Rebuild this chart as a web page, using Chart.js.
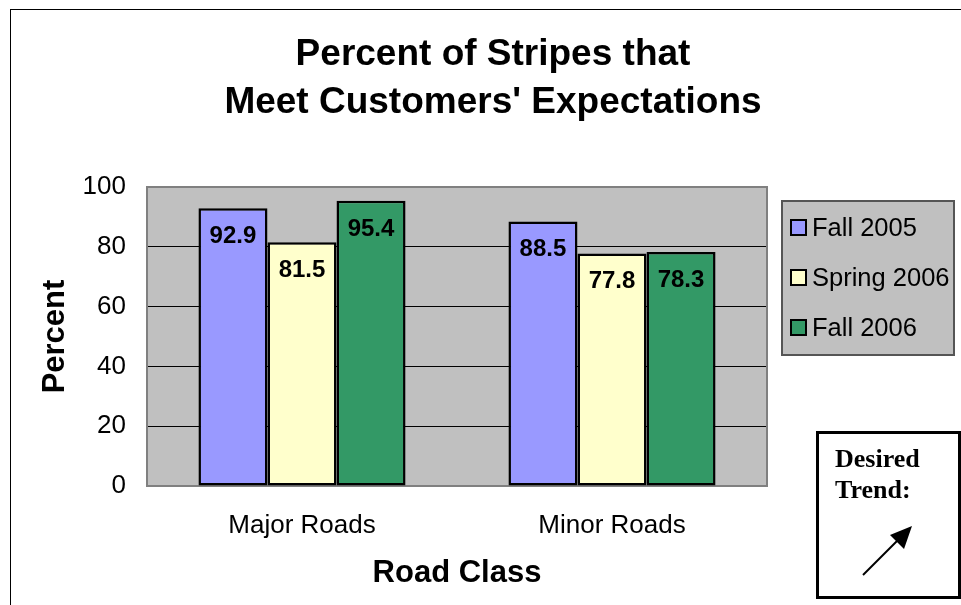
<!DOCTYPE html>
<html>
<head>
<meta charset="utf-8">
<title>Percent of Stripes that Meet Customers' Expectations</title>
<script src="https://cdn.jsdelivr.net/npm/chart.js@4.4.1/dist/chart.umd.min.js"></script>
<style>
  html, body { margin: 0; padding: 0; background: #fff; }
  canvas { display: block; }
</style>
</head>
<body>
<canvas id="stripesChart" width="961" height="605"></canvas>
<script>
// survey results per road class
var roadClasses = ['Major Roads', 'Minor Roads'];
var seasons = ['Fall 2005', 'Spring 2006', 'Fall 2006'];
var fall2005 = [92.9, 88.5];
var spring2006 = [81.5, 77.8];
var fall2006 = [95.4, 78.3];
var seasonColors = ['#9999FF', '#FFFFCC', '#339966'];
var yTicks = [0, 20, 40, 60, 80, 100];
var titleLines = ['Percent of Stripes that', "Meet Customers' Expectations"];
var trendLines = ['Desired', 'Trend:'];

var SANS = "'Liberation Sans', Arial, sans-serif";
var SERIF = "'Liberation Serif', 'Times New Roman', serif";

var seriesValues = [fall2005, spring2006, fall2006];
var datasets = seasons.map(function(name, i){
    return {
        label: name,
        data: seriesValues[i],
        backgroundColor: seasonColors[i],
        borderColor: '#000',
        borderWidth: 2.5,
        borderSkipped: false,
        categoryPercentage: 0.668,
        barPercentage: 1.0
    };
});

// gray plot background and its frame
var plotFrame = {
    id: 'plotFrame',
    beforeDraw: function(chart){
        var ctx = chart.ctx, a = chart.chartArea;
        ctx.save();
        ctx.fillStyle = '#fff';
        ctx.fillRect(0, 0, chart.width, chart.height);
        ctx.fillStyle = '#C0C0C0';
        ctx.fillRect(a.left, a.top, a.right - a.left, a.bottom - a.top);
        ctx.restore();
    },
    beforeDatasetsDraw: function(chart){
        var ctx = chart.ctx, a = chart.chartArea;
        ctx.save();
        ctx.strokeStyle = '#808080';
        ctx.lineWidth = 2;
        ctx.strokeRect(a.left, a.top, a.right - a.left, a.bottom - a.top);
        ctx.restore();
    }
};

// numbers printed inside the top of each bar
var valueLabels = {
    id: 'valueLabels',
    afterDatasetsDraw: function(chart){
        var ctx = chart.ctx;
        ctx.save();
        ctx.font = 'bold 24px ' + SANS;
        ctx.fillStyle = '#000';
        ctx.textAlign = 'center';
        ctx.textBaseline = 'alphabetic';
        chart.data.datasets.forEach(function(ds, i){
            chart.getDatasetMeta(i).data.forEach(function(bar, j){
                ctx.fillText(ds.data[j].toFixed(1), bar.x, bar.y + 35);
            });
        });
        ctx.restore();
    }
};

// outer border, title, legend and the trend box
var decorations = {
    id: 'decorations',
    afterDraw: function(chart){
        var ctx = chart.ctx;
        ctx.save();

        ctx.strokeStyle = '#000';
        ctx.lineWidth = 1;
        ctx.strokeRect(10.5, 9.5, 1000, 1000);

        ctx.fillStyle = '#000';
        ctx.font = 'bold 37px ' + SANS;
        ctx.textAlign = 'center';
        ctx.textBaseline = 'alphabetic';
        titleLines.forEach(function(line, i){
            ctx.fillText(line, 493, 65 + i * 48);
        });

        // legend
        ctx.fillStyle = '#C0C0C0';
        ctx.fillRect(782, 201, 172, 154);
        ctx.strokeStyle = '#555';
        ctx.lineWidth = 2;
        ctx.strokeRect(782, 201, 172, 154);
        ctx.font = '25.5px ' + SANS;
        ctx.textAlign = 'left';
        ctx.textBaseline = 'middle';
        chart.data.datasets.forEach(function(ds, i){
            var y = 228 + i * 50;
            ctx.fillStyle = ds.backgroundColor;
            ctx.fillRect(791, y - 8, 15, 15);
            ctx.strokeStyle = '#000';
            ctx.lineWidth = 2;
            ctx.strokeRect(791, y - 8, 15, 15);
            ctx.fillStyle = '#000';
            ctx.fillText(ds.label, 812, y + 1);
        });

        // desired trend box
        ctx.fillStyle = '#fff';
        ctx.fillRect(817, 432, 142, 166);
        ctx.strokeStyle = '#000';
        ctx.lineWidth = 3;
        ctx.strokeRect(817.5, 432.5, 142, 165);
        ctx.fillStyle = '#000';
        ctx.font = 'bold 26px ' + SERIF;
        ctx.textBaseline = 'alphabetic';
        trendLines.forEach(function(line, i){
            ctx.fillText(line, 835, 467 + i * 31);
        });
        ctx.lineWidth = 2;
        ctx.beginPath();
        ctx.moveTo(863, 575);
        ctx.lineTo(899, 539);
        ctx.stroke();
        ctx.beginPath();
        ctx.moveTo(912, 526);
        ctx.lineTo(890, 535);
        ctx.lineTo(904, 549);
        ctx.closePath();
        ctx.fill();

        ctx.restore();
    }
};

var ctx = document.getElementById('stripesChart');
var stripesChart = new Chart(ctx, {
    type: 'bar',
    data: {
        labels: roadClasses,
        datasets: datasets
    },
    plugins: [plotFrame, valueLabels, decorations],
    options: {
        responsive: false,
        animation: false,
        devicePixelRatio: 1,
        layout: { padding: { top: 187, right: 194, bottom: 0, left: 0 } },
        plugins: {
            legend: { display: false },
            title: { display: false },
            tooltip: { enabled: false }
        },
        scales: {
            x: {
                grid: { display: false },
                border: { display: false },
                ticks: {
                    color: '#000',
                    padding: 16,
                    font: { family: SANS, size: 26, lineHeight: 1.2 }
                },
                title: {
                    display: true,
                    text: 'Road Class',
                    color: '#000',
                    padding: { top: 0, bottom: 13 },
                    font: { family: SANS, size: 31, weight: 'bold', lineHeight: 1.2 }
                },
                afterFit: function(scale){ scale.height = 119; }
            },
            y: {
                min: yTicks[0],
                max: yTicks[yTicks.length - 1],
                border: { display: false },
                grid: {
                    drawTicks: false,
                    lineWidth: 1,
                    color: function(c){
                        var v = c.tick && c.tick.value;
                        return (v === yTicks[0] || v === yTicks[yTicks.length - 1]) ? 'rgba(0,0,0,0)' : '#000';
                    }
                },
                ticks: {
                    stepSize: yTicks[1] - yTicks[0],
                    color: '#000',
                    padding: 21,
                    font: { family: SANS, size: 26, lineHeight: 1.2 }
                },
                title: {
                    display: true,
                    text: 'Percent',
                    color: '#000',
                    padding: { top: 37, bottom: 0 },
                    font: { family: SANS, size: 31, weight: 'bold', lineHeight: 1.2 }
                },
                afterFit: function(scale){ scale.width = 147; }
            }
        }
    }
});
</script>
</body>
</html>
